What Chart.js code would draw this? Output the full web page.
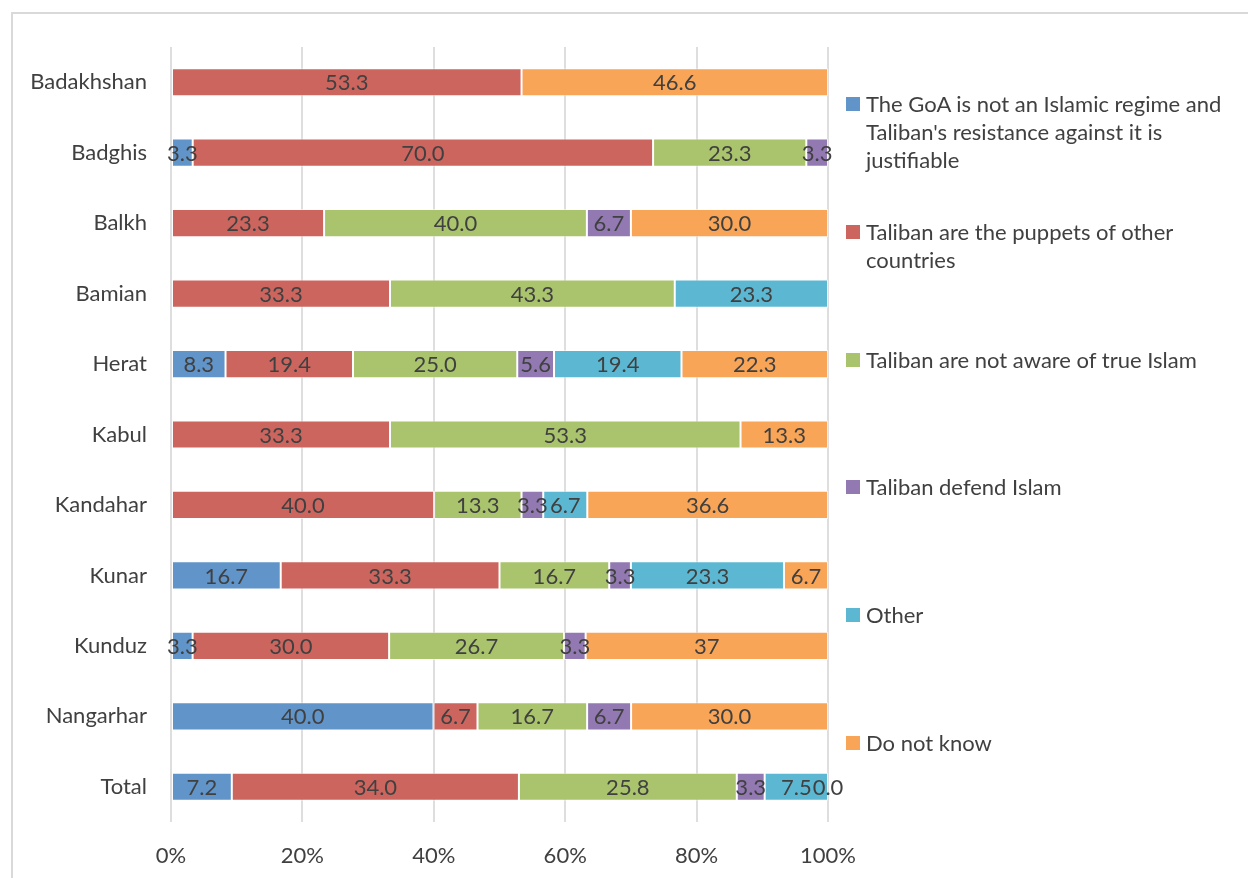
<!DOCTYPE html>
<html>
<head>
<meta charset="utf-8">
<script src="https://cdn.jsdelivr.net/npm/chart.js@4/dist/chart.umd.min.js"></script>
<style>
  html, body { margin: 0; padding: 0; background: #ffffff; }
  #wrap { position: relative; width: 1248px; height: 878px; overflow: hidden; font-family: Lato, "Open Sans", sans-serif; }
  #frame { position: absolute; left: 11px; top: 12px; width: 1300px; height: 900px;
           border-left: 2px solid #d9d9d9; border-top: 2px solid #d9d9d9; }
  #chart { position: absolute; left: 0; top: 0; }
  #legend { position: absolute; left: 846px; top: 90px; width: 400px; }
  .item { position: absolute; left: 0; width: 392px; }
  .swatch { position: absolute; left: 0; top: 7px; width: 14px; height: 14px; }
  .text { position: absolute; left: 20px; width: 374px; font-size: 22px; line-height: 28px; color: #404040; }
</style>
</head>
<body>
<div id="wrap">
  <div id="frame"></div>
  <canvas id="chart" width="1248" height="878"></canvas>
  <div id="legend"></div>
</div>
<script>
// Province answers (percent of respondents), as printed in each bar
const categories = ['Badakhshan', 'Badghis', 'Balkh', 'Bamian', 'Herat', 'Kabul',
                    'Kandahar', 'Kunar', 'Kunduz', 'Nangarhar', 'Total'];
const goaNotIslamic = [null, '3.3', null, null, '8.3', null, null, '16.7', '3.3', '40.0', '7.2'];
const puppets       = ['53.3', '70.0', '23.3', '33.3', '19.4', '33.3', '40.0', '33.3', '30.0', '6.7', '34.0'];
const notAware      = [null, '23.3', '40.0', '43.3', '25.0', '53.3', '13.3', '16.7', '26.7', '16.7', '25.8'];
const defendIslam   = [null, '3.3', '6.7', null, '5.6', null, '3.3', '3.3', '3.3', '6.7', '3.3'];
const other         = [null, null, null, '23.3', '19.4', null, '6.7', '23.3', null, null, '7.5'];
const doNotKnow     = ['46.6', null, '30.0', null, '22.3', '13.3', '36.6', '6.7', '37', '30.0', '0.0'];

const seriesNames = [
  "The GoA is not an Islamic regime and Taliban's resistance against it is justifiable",
  'Taliban are the puppets of other countries',
  'Taliban are not aware of true Islam',
  'Taliban defend Islam',
  'Other',
  'Do not know'
];
const seriesValues = [goaNotIslamic, puppets, notAware, defendIslam, other, doNotKnow];
const seriesColors = ['#6194c9', '#cd655f', '#aac46d', '#9279b2', '#5cb8d2', '#f9a557'];

// 100% stacked: each row is scaled to its own sum
const rowTotals = categories.map((_, i) =>
  seriesValues.reduce((s, arr) => s + (arr[i] == null ? 0 : parseFloat(arr[i])), 0));

const datasets = seriesValues.map((arr, k) => ({
  label: seriesNames[k],
  raw: arr,
  data: arr.map((v, i) => v == null ? null : parseFloat(v) / rowTotals[i] * 100),
  backgroundColor: seriesColors[k],
  borderColor: 'rgba(255,255,255,0.55)',
  borderWidth: 1,
  borderSkipped: false,
  categoryPercentage: 1,
  barPercentage: 0.4
}));

const FONT = 'Lato, "Open Sans", sans-serif';
const FONT_SIZE = 22;

// Writes the printed value in the middle of every segment
const segmentLabels = {
  id: 'segmentLabels',
  afterDatasetsDraw(chart) {
    const ctx = chart.ctx;
    ctx.save();
    ctx.font = FONT_SIZE + 'px ' + FONT;
    ctx.fillStyle = '#404040';
    ctx.textAlign = 'center';
    ctx.textBaseline = 'middle';
    chart.data.datasets.forEach((ds, k) => {
      const meta = chart.getDatasetMeta(k);
      meta.data.forEach((bar, i) => {
        const v = ds.raw[i];
        if (v == null) return;
        ctx.fillText(v, (bar.x + bar.base) / 2, bar.y + 1);
      });
    });
    ctx.restore();
  }
};

const chart = new Chart(document.getElementById('chart'), {
  type: 'bar',
  data: { labels: categories, datasets },
  options: {
    indexAxis: 'y',
    responsive: false,
    animation: false,
    devicePixelRatio: 1,
    layout: { padding: { left: 0, top: 47, right: 420, bottom: 0 } },
    plugins: { legend: { display: false }, tooltip: { enabled: false } },
    scales: {
      x: {
        stacked: true,
        min: 0, max: 100,
        grid: { color: '#dedede', lineWidth: 2, drawTicks: false },
        border: { display: false },
        ticks: { stepSize: 20, padding: 21, color: '#404040',
                 font: { family: FONT, size: FONT_SIZE },
                 callback: v => v + '%' },
        afterFit: s => { s.height = 56; }
      },
      y: {
        stacked: true,
        grid: { display: false, drawTicks: false },
        border: { display: false },
        ticks: { padding: 24, color: '#404040', font: { family: FONT, size: FONT_SIZE } },
        afterFit: s => { s.width = 171; }
      }
    }
  },
  plugins: [segmentLabels]
});

// Legend column to the right of the plot
const legend = document.getElementById('legend');
chart.data.datasets.forEach((ds, k) => {
  const item = document.createElement('div');
  item.className = 'item';
  item.style.top = (k * 127.8) + 'px';
  const sw = document.createElement('div');
  sw.className = 'swatch';
  sw.style.background = ds.backgroundColor;
  const tx = document.createElement('div');
  tx.className = 'text';
  tx.textContent = ds.label;
  item.appendChild(sw);
  item.appendChild(tx);
  legend.appendChild(item);
});
</script>
</body>
</html>
